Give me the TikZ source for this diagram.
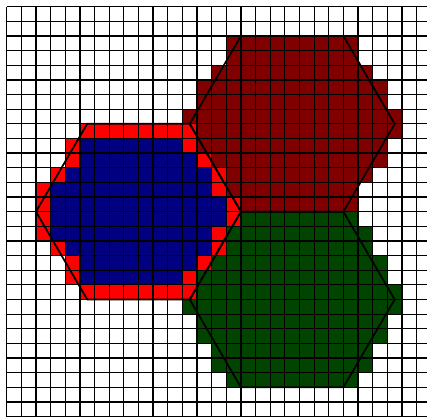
\documentclass[tikz,border=0pt]{standalone}
\usepackage{xcolor}
\definecolor{hexmaroon}{RGB}{128,0,0}
\definecolor{hexgreen}{RGB}{0,68,0}
\definecolor{hexnavy}{RGB}{0,0,128}
\definecolor{hexred}{RGB}{255,0,0}

\begin{document}
\begin{tikzpicture}[x=0.5cm,y=-0.5cm,
    gridline/.style={black, line width=1.2pt},
    hexline/.style={black, line width=1.7pt, line join=miter}]
    \useasboundingbox (-0.458,-0.458) rectangle (28.71,27.96);
    \clip (-0.458,-0.458) rectangle (28.71,27.96);
    \fill[white] (-0.458,-0.458) rectangle (28.71,27.96);

    % Upper right hexagon: covered cells
    \foreach \r/\a/\b in {2/15/23, 3/15/23, 4/14/24, 5/13/25, 6/13/25, 7/12/26,
                          8/12/26, 9/13/25, 10/13/25, 11/14/24, 12/15/23, 13/15/23}
        \fill[hexmaroon] (\a,\r) rectangle (\b+1,\r+1);

    % Lower right hexagon: covered cells
    \foreach \r/\a/\b in {14/15/23, 15/14/24, 16/14/24, 17/13/25, 18/13/25, 19/12/26,
                          20/12/26, 21/13/25, 22/13/25, 23/14/24, 24/14/24, 25/15/23}
        \fill[hexgreen] (\a,\r) rectangle (\b+1,\r+1);

    % Left hexagon: boundary cells
    \foreach \r/\a/\b in {8/5/12, 9/4/12, 10/4/13, 11/3/14, 12/2/14, 13/2/15,
                          14/2/15, 15/2/14, 16/3/14, 17/4/13, 18/4/12, 19/5/12}
        \fill[hexred] (\a,\r) rectangle (\b+1,\r+1);

    % Left hexagon: interior cells
    \foreach \r/\a/\b in {9/5/11, 10/5/12, 11/4/13, 12/3/13, 13/3/14,
                          14/3/14, 15/3/13, 16/4/13, 17/5/12, 18/5/11}
        \fill[hexnavy] (\a,\r) rectangle (\b+1,\r+1);

    % Grid
    \foreach \i in {0,...,29} {
        \draw[gridline] (\i,0) -- (\i,29);
        \draw[gridline] (0,\i) -- (29,\i);
    }

    % Hexagon outlines
    \draw[hexline] (16,14) -- (12.5,8) -- (5.5,8) -- (2,14) -- (5.5,20) -- (12.5,20) -- cycle;
    \draw[hexline] (26.5,8) -- (23,2) -- (16,2) -- (12.5,8) -- (16,14) -- (23,14) -- cycle;
    \draw[hexline] (26.5,20) -- (23,14) -- (16,14) -- (12.5,20) -- (16,26) -- (23,26) -- cycle;
\end{tikzpicture}
\end{document}
